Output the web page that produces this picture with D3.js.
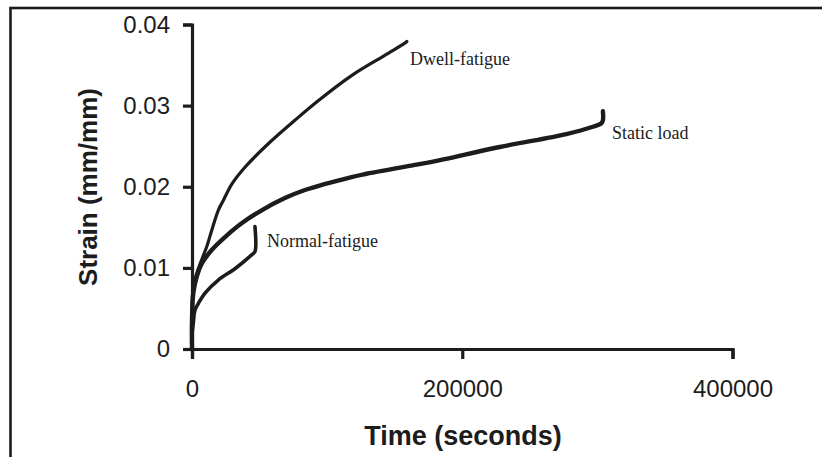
<!DOCTYPE html>
<html>
<head>
<meta charset="utf-8">
<script src="https://cdn.jsdelivr.net/npm/d3@7"></script>
<style>
  body { margin: 0; background: #fff; }
  svg { display: block; }
</style>
</head>
<body>
<div id="chart"></div>
<script>
// data
const yTicks = [0, 0.01, 0.02, 0.03, 0.04];
const xTicks = [0, 200000, 400000];

const dwellTime   = [0, 0, 960, 3480, 7170, 10870, 14570, 19450, 23140, 29350, 39190, 56420, 76160, 93390, 118080, 142700, 157500, 159000];
const dwellStrain = [0, 0.0044, 0.0077, 0.0093, 0.0110, 0.0126, 0.0146, 0.0171, 0.0183, 0.0203, 0.0224, 0.0253, 0.0282, 0.0306, 0.0337, 0.0362, 0.0377, 0.0379];

const staticTime   = [0, 0, 960, 3480, 7170, 14570, 24400, 36750, 51540, 68760, 83550, 118080, 129170, 164890, 178420, 227740, 277050, 296720, 302930, 304100, 304100];
const staticStrain = [0, 0.0036, 0.0069, 0.0089, 0.0105, 0.0122, 0.0138, 0.0155, 0.0171, 0.0186, 0.0196, 0.0212, 0.0216, 0.0227, 0.0231, 0.0249, 0.0265, 0.0274, 0.0278, 0.0282, 0.0293];

const normalTime   = [0, 0, 960, 2220, 4660, 9610, 19450, 31790, 44140, 46580, 46580];
const normalStrain = [0, 0.0017, 0.0032, 0.0048, 0.0056, 0.0069, 0.0085, 0.0099, 0.0116, 0.0120, 0.0151];

const seriesNames = ["Dwell-fatigue", "Static load", "Normal-fatigue"];

// sizes
const wide = 822;
const high = 457;
const ink = "#1c1c1c";

const svg = d3.select("#chart")
  .append("svg")
  .attr("width", wide)
  .attr("height", high);

// outer frame, runs off the right and bottom edges
svg.append("rect")
  .attr("x", 10.5)
  .attr("y", 8)
  .attr("width", 900)
  .attr("height", 600)
  .attr("fill", "none")
  .attr("stroke", ink)
  .attr("stroke-width", 2.6);

const xScale = d3.scaleLinear().domain([0, 400000]).range([192, 732.5]);
const yScale = d3.scaleLinear().domain([0, 0.04]).range([349, 24.5]);

// axes
const xAxis = d3.axisBottom(xScale)
  .tickValues(xTicks)
  .tickFormat(d3.format("d"))
  .tickSizeOuter(0)
  .tickSize(10)
  .tickPadding(21);

const yAxis = d3.axisLeft(yScale)
  .tickValues(yTicks)
  .tickFormat((d) => (d === 0 ? "0" : d3.format(".2f")(d)))
  .tickSizeOuter(0)
  .tickSize(9)
  .tickPadding(13);

const gx = svg.append("g")
  .attr("transform", "translate(0," + yScale(0) + ")")
  .call(xAxis);

const gy = svg.append("g")
  .attr("transform", "translate(" + xScale(0) + ",0)")
  .call(yAxis);

[gx, gy].forEach((g) => {
  g.select(".domain").attr("stroke", ink).attr("stroke-width", 3.2);
  g.selectAll(".tick line").attr("stroke", ink).attr("stroke-width", 3.2);
  g.selectAll(".tick text")
    .attr("fill", ink)
    .style("font-family", "'Liberation Sans', Arial, sans-serif")
    .style("font-size", "24px");
});

// axis titles
svg.append("text")
  .attr("transform", "translate(97,187) rotate(-90)")
  .attr("text-anchor", "middle")
  .attr("fill", ink)
  .style("font-family", "'Liberation Sans', Arial, sans-serif")
  .style("font-weight", "bold")
  .style("font-size", "26px")
  .text("Strain (mm/mm)");

svg.append("text")
  .attr("x", 463)
  .attr("y", 445)
  .attr("text-anchor", "middle")
  .attr("fill", ink)
  .style("font-family", "'Liberation Sans', Arial, sans-serif")
  .style("font-weight", "bold")
  .style("font-size", "27px")
  .text("Time (seconds)");

// curves
const line = d3.line()
  .curve(d3.curveCatmullRom.alpha(0.5))
  .x((d) => xScale(d[0]))
  .y((d) => yScale(d[1]));

const curves = [
  { t: dwellTime, s: dwellStrain, w: 3.2 },
  { t: staticTime, s: staticStrain, w: 4.4 },
  { t: normalTime, s: normalStrain, w: 3.6 }
];

curves.forEach((c) => {
  svg.append("path")
    .datum(c.t.map((t, i) => [t, c.s[i]]))
    .attr("d", line)
    .attr("fill", "none")
    .attr("stroke", ink)
    .attr("stroke-width", c.w)
    .attr("stroke-linejoin", "round")
    .attr("stroke-linecap", "round");
});

// series labels
const labelPos = [
  [410, 65],
  [612, 139],
  [267, 247]
];

svg.selectAll(".series-label")
  .data(seriesNames)
  .enter()
  .append("text")
  .attr("class", "series-label")
  .attr("x", (d, i) => labelPos[i][0])
  .attr("y", (d, i) => labelPos[i][1])
  .attr("fill", ink)
  .style("font-family", "'Liberation Serif', 'Times New Roman', serif")
  .style("font-size", "18px")
  .text((d) => d);
</script>
</body>
</html>
